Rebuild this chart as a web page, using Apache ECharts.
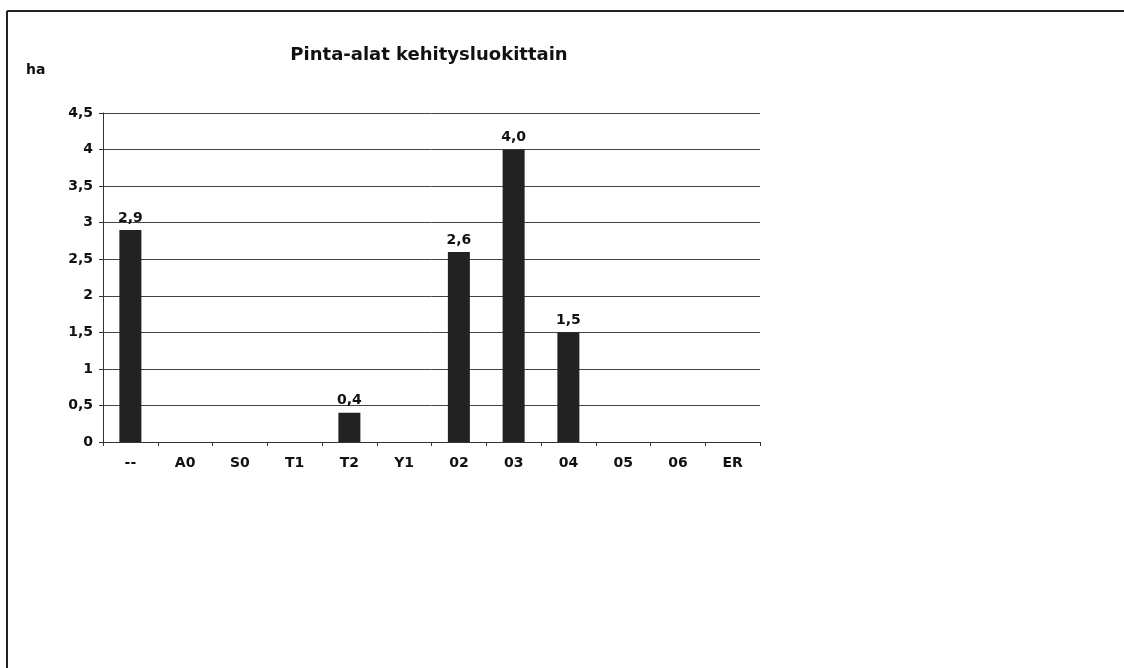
<!DOCTYPE html>
<html><head><meta charset="utf-8">
<script src="https://cdn.jsdelivr.net/npm/echarts@6/dist/echarts.min.js"></script>
<style>html,body{margin:0;padding:0;background:#fff}#c{width:1124px;height:668px}</style>
</head><body><div id="c"></div>
<script>
const categories = ['--','A0','S0','T1','T2','Y1','02','03','04','05','06','ER'];
const values = [2.9,0,0,0,0.4,0,2.6,4.0,1.5,0,0,0];
const yTicks = [0,0.5,1,1.5,2,2.5,3,3.5,4,4.5];
const fmt = v => String(v).replace('.', ',');
const chart = echarts.init(document.getElementById('c'));
const font = 'Verdana, "DejaVu Sans", sans-serif';
chart.setOption({
  animation:false,
  backgroundColor:'#fff',
  title:{text:'Pinta-alat kehitysluokittain',left:424,top:41,textAlign:'center',
    textStyle:{fontFamily:font,fontWeight:'bold',fontSize:18,color:'#111'}},
  graphic:[
    {type:'line',shape:{x1:7,y1:11,x2:1124,y2:11},style:{stroke:'#222',lineWidth:2}},
    {type:'line',shape:{x1:7,y1:11,x2:7,y2:668},style:{stroke:'#222',lineWidth:2}},
    {type:'text',left:26,top:63,style:{text:'ha',font:'bold 14px '+font,fill:'#111'}}
  ],
  grid:{left:103,top:113,right:364,bottom:226},
  xAxis:{type:'category',data:categories,
    axisLine:{lineStyle:{color:'#333',width:1}},
    axisTick:{show:true,length:4,lineStyle:{color:'#333'}},
    axisLabel:{margin:14,fontFamily:font,fontWeight:'bold',fontSize:14,color:'#111'}},
  yAxis:{type:'value',min:0,max:4.5,interval:0.5,
    axisLine:{show:true,lineStyle:{color:'#333',width:1}},
    axisTick:{show:true,length:4,lineStyle:{color:'#333'}},
    axisLabel:{margin:10,fontFamily:font,fontWeight:'bold',fontSize:14,color:'#111',
      formatter:v=>yTicks.includes(v)?fmt(v):''},
    splitLine:{lineStyle:{color:'#444',width:1}}},
  series:[{type:'bar',data:values,barWidth:22,
    itemStyle:{color:'#222'},
    label:{show:true,position:'top',distance:5,fontFamily:font,fontWeight:'bold',fontSize:14,color:'#111',
      formatter:p=>p.value>0?p.value.toFixed(1).replace('.',','):''}}]
});
</script></body></html>
